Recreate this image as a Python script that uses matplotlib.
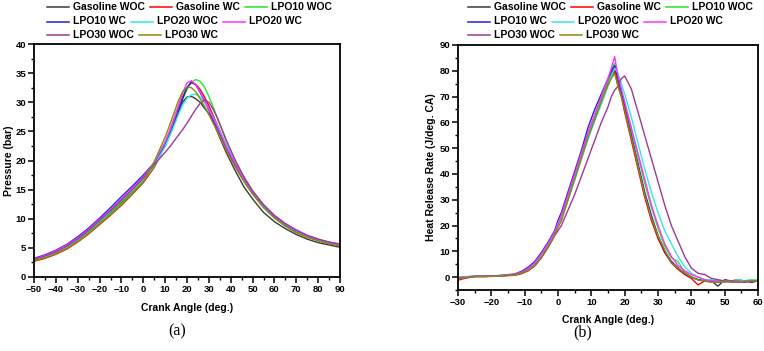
import matplotlib
matplotlib.use("Agg")
import matplotlib.pyplot as plt
from matplotlib.lines import Line2D
from matplotlib.ticker import MultipleLocator

plt.rcParams['font.family'] = ['Liberation Sans', 'DejaVu Sans']

W, H = 764, 351

# legend / series names and colours (shared by both panels)
names = ['Gasoline WOC', 'Gasoline WC', 'LPO10 WOC', 'LPO10 WC',
         'LPO20 WOC', 'LPO20 WC', 'LPO30 WOC', 'LPO30 WC']
colors = ['#3a3a3a', '#ff0000', '#22e822', '#2020e0',
          '#30e8e8', '#ff30ff', '#9a3a9a', '#8a8a10']

# ---- (a) cylinder pressure ----
p_ca = [-50, -45, -40, -35, -30, -25, -20, -15, -10, -5, 0, 5,
        10, 12, 14, 16, 18, 20, 22, 24, 26, 28, 30, 32, 34,
        38, 42, 46, 50, 55, 60, 65, 70, 75, 80, 85, 90]

p_gas_woc = [2.9, 3.4, 4.1, 5.0, 6.2, 7.7, 9.3, 11.0, 12.8, 14.6, 16.6, 19.2,
             22.8, 24.5, 26.3, 28.3, 30.0, 30.9, 31.0, 30.6, 30.0, 29.0, 28.0, 26.6, 24.8,
             21.3, 18.3, 15.5, 13.4, 11.1, 9.5, 8.3, 7.3, 6.5, 5.9, 5.5, 5.1]
p_gas_wc = [2.7, 3.2, 3.9, 4.8, 6.0, 7.4, 9.0, 10.6, 12.3, 14.2, 16.2, 18.8,
            22.6, 24.5, 26.6, 28.8, 30.9, 32.5, 33.3, 33.1, 32.2, 30.9, 29.4, 27.7, 26.0,
            22.5, 19.4, 16.7, 14.4, 12.1, 10.3, 8.9, 7.8, 6.9, 6.3, 5.8, 5.4]
p_lpo10_woc = [2.9, 3.4, 4.1, 5.0, 6.2, 7.6, 9.2, 10.9, 12.6, 14.5, 16.5, 19.0,
               22.7, 24.4, 26.3, 28.4, 30.5, 32.2, 33.4, 33.9, 33.6, 32.6, 31.0, 29.2, 27.2,
               23.3, 20.0, 17.2, 14.8, 12.4, 10.5, 9.0, 7.9, 7.0, 6.4, 5.9, 5.5]
p_lpo10_wc = [3.2, 3.8, 4.6, 5.6, 6.9, 8.4, 10.1, 11.9, 13.8, 15.6, 17.5, 19.6,
              22.6, 24.3, 26.2, 28.3, 30.6, 32.5, 33.5, 33.0, 31.7, 30.2, 28.6, 27.0, 25.4,
              22.1, 19.2, 16.6, 14.4, 12.1, 10.3, 8.9, 7.8, 6.9, 6.3, 5.8, 5.5]
p_lpo20_woc = [3.0, 3.5, 4.2, 5.2, 6.4, 7.9, 9.6, 11.3, 13.1, 14.9, 16.8, 19.2,
               22.4, 24.1, 25.9, 27.8, 29.5, 30.7, 31.3, 31.4, 30.9, 30.0, 28.8, 27.4, 25.9,
               22.6, 19.6, 16.9, 14.6, 12.2, 10.4, 9.0, 7.9, 7.0, 6.4, 5.9, 5.5]
p_lpo20_wc = [3.1, 3.7, 4.5, 5.5, 6.7, 8.2, 9.9, 11.6, 13.4, 15.3, 17.2, 19.6,
              23.2, 25.1, 27.2, 29.4, 31.6, 33.3, 33.7, 33.0, 31.8, 30.4, 28.9, 27.3, 25.7,
              22.4, 19.5, 16.9, 14.7, 12.4, 10.6, 9.2, 8.1, 7.2, 6.5, 6.0, 5.7]
p_lpo30_woc = [3.0, 3.6, 4.3, 5.3, 6.5, 8.0, 9.7, 11.4, 13.2, 15.0, 17.0, 19.3,
               21.4, 22.3, 23.3, 24.3, 25.3, 26.4, 27.6, 28.8, 29.8, 30.4, 30.0, 28.8, 27.2,
               23.5, 20.1, 17.2, 14.8, 12.4, 10.5, 9.1, 8.0, 7.1, 6.5, 6.0, 5.6]
p_lpo30_wc = [2.8, 3.3, 4.0, 4.9, 6.1, 7.5, 9.1, 10.7, 12.4, 14.3, 16.3, 19.8,
              24.0, 26.0, 28.1, 30.2, 31.8, 32.6, 32.5, 31.8, 30.6, 29.3, 27.9, 26.4, 24.9,
              21.7, 18.9, 16.4, 14.2, 11.9, 10.1, 8.7, 7.6, 6.8, 6.2, 5.7, 5.4]

# ---- (b) heat release rate ----
h_ca = [-30, -28, -25, -22, -19, -16, -13, -11, -9, -7, -5, -3, -1,
        0, 1, 3, 5, 7, 9, 11, 13, 15, 16, 17, 18, 19, 20,
        22, 24, 26, 28, 30, 32, 34, 36, 38, 40, 42, 44, 46, 48, 50, 52, 54, 56, 58, 60]

h_gas_woc = [-0.2, 0.1, 0.3, 0.3, 0.4, 0.6, 0.9, 1.6, 2.8, 4.8, 8.0, 12.0, 17.0,
             20, 23, 31, 39, 47, 55.5, 62.5, 69, 76, 79, 81, 75, 71, 65,
             54, 43, 32, 23, 16, 10, 6, 3.5, 1.5, 0, -1, -1.5, -1.5, -3.5, -1, -1.5, -1, -1.5, -2, -1.5]
h_gas_wc = [-1.2, -0.5, 0.3, 0.2, 0.3, 0.5, 0.7, 1.3, 2.4, 4.3, 7.5, 11.5, 16.5,
            19.5, 22, 30, 38, 46, 55, 62, 68.5, 75, 77.5, 80, 74, 70, 64,
            53, 42, 31, 22, 15, 9.5, 5.5, 3, 1, -0.5, -3, -1.5, -1.5, -1.8, -1.5, -1.8, -2, -1.5, -1.8, -1.5]
h_lpo10_woc = [-0.3, 0.0, 0.2, 0.3, 0.4, 0.6, 1.0, 1.7, 3.0, 5.0, 8.5, 12.5, 17.0,
               20, 23, 31, 39, 47, 55, 62, 69, 76, 80, 83, 77, 72, 67,
               57, 47, 36.5, 27, 19, 12, 7.5, 6, 2, 0, -1, -1.5, -2, -2, -2, -1.5, -1.8, -1.5, -1, -1.2]
h_lpo10_wc = [-0.3, 0.1, 0.3, 0.4, 0.5, 0.8, 1.2, 2.2, 3.8, 6.0, 9.5, 13.5, 18.0,
              22, 25, 33, 41, 49, 58, 65, 71, 77, 80, 82, 77, 72, 66,
              55, 44, 33, 24, 16, 10, 6, 3.5, 1.5, 0, -1, -1.5, -1.5, -2, -1.5, -1.8, -1.5, -1.5, -1.8, -1.5]
h_lpo20_woc = [-0.2, 0.1, 0.3, 0.3, 0.4, 0.6, 1.0, 1.8, 3.1, 5.1, 8.6, 12.6, 17.0,
               20, 22.5, 30, 37.5, 45.5, 53.5, 60.5, 67, 74, 78, 81, 79, 75, 71,
               62, 52, 42, 33, 25, 18, 13, 8, 4, 1.5, 0, -1, -1, -1.5, -1.5, -1.5, -1, -1.5, -1, -1.2]
h_lpo20_wc = [-0.4, 0.0, 0.2, 0.3, 0.4, 0.6, 1.1, 1.9, 3.3, 5.5, 9.0, 13.0, 17.5,
              21, 24, 32, 40, 48, 56, 63, 70, 77, 81, 85.5, 78, 73, 68,
              58, 48, 38, 28, 20, 13, 8, 4.5, 2.5, 1, 0, -1, -1.5, -1.5, -2, -1.5, -1.5, -2, -1.5, -1.5]
h_lpo30_woc = [-0.6, -0.3, 0.2, 0.3, 0.4, 0.6, 1.0, 1.6, 2.6, 4.4, 7.6, 11.5, 16.0,
               18, 20, 26, 32, 39, 46, 53, 60, 66, 70, 72.5, 74, 77, 78,
               73, 64, 55, 46, 37, 28, 20, 14, 8, 3.5, 1.5, 1.0, -0.5, -1, -1.5, -1.5, -1.8, -2, -1.5, -1.5]
h_lpo30_wc = [-0.8, -0.2, 0.3, 0.2, 0.4, 0.6, 0.9, 1.5, 2.6, 4.5, 7.8, 11.8, 16.5,
              19.5, 22, 30, 38, 46, 54, 61, 68, 74.5, 77, 79, 74, 70, 65,
              54, 43, 32, 23, 16, 10.5, 5.5, 3.5, 1.5, 0, -1, -1.5, -2, -2, -1.5, -2, -1.8, -1.5, -1.5, -1.5]

pressure = [p_gas_woc, p_gas_wc, p_lpo10_woc, p_lpo10_wc,
            p_lpo20_woc, p_lpo20_wc, p_lpo30_woc, p_lpo30_wc]
hrr = [h_gas_woc, h_gas_wc, h_lpo10_woc, h_lpo10_wc,
       h_lpo20_woc, h_lpo20_wc, h_lpo30_woc, h_lpo30_wc]


def px(x, y):
    # pixel position (from top-left) -> figure fraction
    return x / W, 1 - y / H


def style_axes(ax):
    for s in ax.spines.values():
        s.set_linewidth(1.3)
    ax.tick_params(which='major', direction='out', length=4, width=1.1,
                   labelsize=6.8, pad=1.5)
    ax.tick_params(which='minor', direction='out', length=2.5, width=1.0)
    for lab in ax.get_xticklabels() + ax.get_yticklabels():
        lab.set_fontweight('bold')


def flow_legend(fig, x0, rows_y, rows):
    # Origin-style legend: entries flow left to right, three rows
    r = fig.canvas.get_renderer()
    for yy, row in zip(rows_y, rows):
        x = x0
        for i in row:
            (fx0, fy), (fx1, _) = px(x, yy), px(x + 22, yy)
            fig.add_artist(Line2D([fx0, fx1], [fy, fy], color=colors[i],
                                  lw=1.1, transform=fig.transFigure))
            tx, ty = px(x + 26, yy)
            t = fig.text(tx, ty, names[i], fontsize=7.5, fontweight='bold',
                         ha='left', va='center')
            x = t.get_window_extent(r).x1 + 5


fig = plt.figure(figsize=(W / 100, H / 100), dpi=100)

ax1 = fig.add_axes([34 / W, 74 / H, 306 / W, 233 / H])
for vals, c in zip(pressure, colors):
    ax1.plot(p_ca, vals, color=c, lw=1.0)
ax1.set_xlim(-50, 90)
ax1.set_ylim(0, 40)
ax1.xaxis.set_major_locator(MultipleLocator(10))
ax1.xaxis.set_minor_locator(MultipleLocator(5))
ax1.yaxis.set_major_locator(MultipleLocator(5))
ax1.yaxis.set_minor_locator(MultipleLocator(2.5))
style_axes(ax1)
ax1.set_xlabel('Crank Angle (deg.)', fontsize=7.5, fontweight='bold', labelpad=7)
ax1.set_ylabel('Pressure (bar)', fontsize=7.5, fontweight='bold', labelpad=1)

ax2 = fig.add_axes([458 / W, 61 / H, 300 / W, 245 / H])
for vals, c in zip(hrr, colors):
    ax2.plot(h_ca, vals, color=c, lw=1.0)
ax2.set_xlim(-30, 60)
ax2.set_ylim(-5, 90)
ax2.xaxis.set_major_locator(MultipleLocator(10))
ax2.xaxis.set_minor_locator(MultipleLocator(5))
ax2.yaxis.set_major_locator(MultipleLocator(10))
ax2.yaxis.set_minor_locator(MultipleLocator(5))
style_axes(ax2)
ax2.set_xlabel('Crank Angle (deg.)', fontsize=7.5, fontweight='bold', labelpad=6)
ax2.set_ylabel('Heat Release Rate (J/deg. CA)', fontsize=7.5, fontweight='bold', labelpad=3)

fig.text(*px(177, 331), '(a)', fontsize=11.5, family='Liberation Serif',
         ha='center', va='center')
fig.text(*px(583, 332), '(b)', fontsize=11.5, family='Liberation Serif',
         ha='center', va='center')

rows = [[0, 1, 2], [3, 4, 5], [6, 7]]
flow_legend(fig, 47, [7, 21.5, 35], rows)
flow_legend(fig, 468, [7, 21.5, 35], rows)

fig.savefig('out.png', dpi=100)
